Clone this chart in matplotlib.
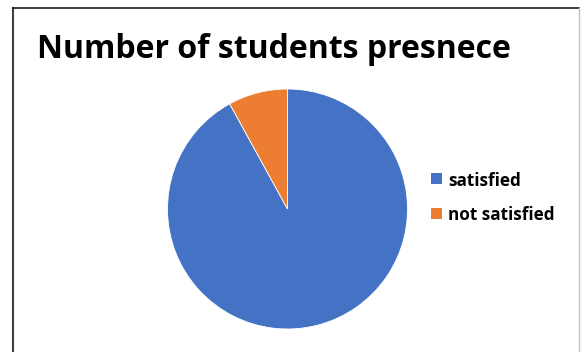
import matplotlib
matplotlib.use("Agg")
import matplotlib.pyplot as plt
from matplotlib.lines import Line2D
from matplotlib.patches import Patch

categories = ["satisfied", "not satisfied"]
values = [92, 8]
colors = ["#4472C4", "#ED7D31"]
title = "Number of students presnece"

W, H = 581, 352
fig = plt.figure(figsize=(W / 100, H / 100), dpi=100)
fig.patch.set_facecolor("white")

# pie axes
cx, cy, r = 287.5, 209, 120
ax = fig.add_axes([(cx - r) / W, (H - cy - r) / H, 2 * r / W, 2 * r / H])
ax.pie(values, colors=colors, startangle=90, counterclock=False,
       wedgeprops=dict(edgecolor="white", linewidth=0.6))
ax.set_aspect("equal")
ax.set_xlim(-1.0, 1.0)
ax.set_ylim(-1.0, 1.0)
ax.axis("off")

# title
fig.text(37 / W, 1 - 49 / H, title, fontsize=23, fontweight="bold",
         family=["Open Sans", "DejaVu Sans"], ha="left", va="center", color="black")

# legend (drawn manually for exact placement)
fs = 12.3
sq = 11
rows_y = [178.5, 213.5]
for c, lab, yy in zip(colors, categories, rows_y):
    fig.patches.append(plt.Rectangle((431 / W, 1 - (yy + sq / 2) / H), sq / W, sq / H,
                                     facecolor=c, edgecolor="none",
                                     transform=fig.transFigure, figure=fig))
    fig.text(448 / W, 1 - yy / H, lab, fontsize=fs, fontweight="bold",
             family=["Open Sans", "DejaVu Sans"], ha="left", va="center_baseline",
             color="black")

# border lines
fig.add_artist(Line2D([13 / W, 13 / W], [0, 1 - 8 / H], color="#404040", lw=1.5,
                      transform=fig.transFigure))
fig.add_artist(Line2D([13 / W, 579 / W], [1 - 8 / H, 1 - 8 / H], color="#202020", lw=1.2,
                      transform=fig.transFigure))
fig.add_artist(Line2D([579 / W, 579 / W], [0, 1 - 8 / H], color="#c0c0c0", lw=1.0,
                      transform=fig.transFigure))

fig.savefig("out.png", dpi=100)
